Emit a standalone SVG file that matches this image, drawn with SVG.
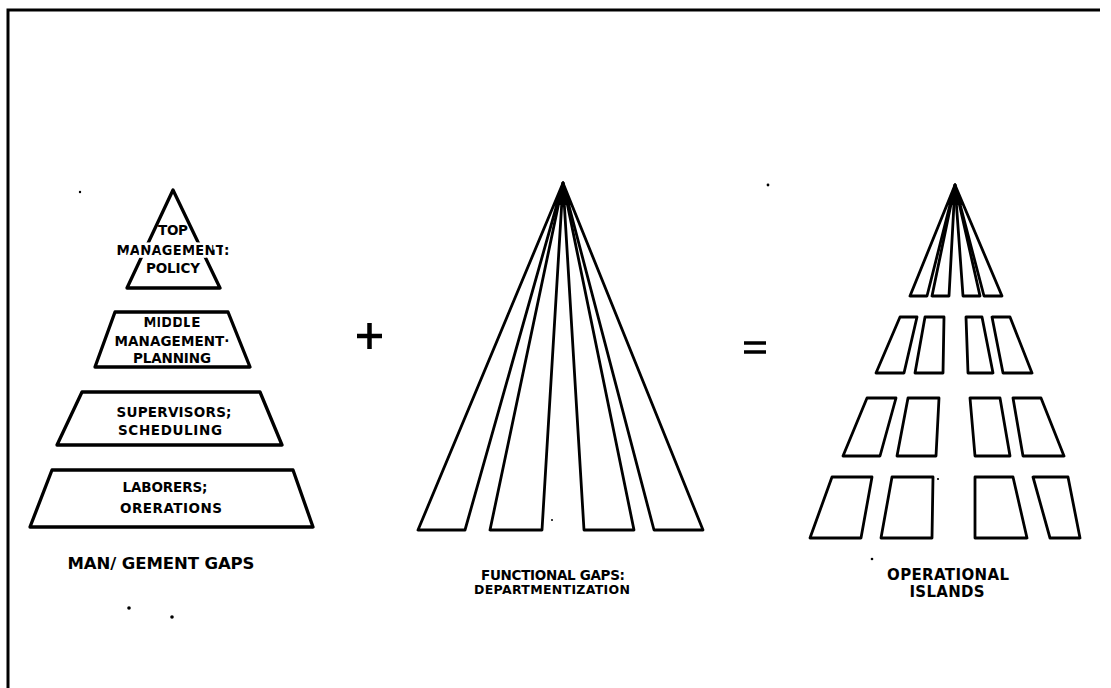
<svg xmlns="http://www.w3.org/2000/svg" width="1111" height="688" viewBox="0 0 1111 688">
<style>
.s{fill:none;stroke:#000;stroke-width:3.3;stroke-linejoin:round;stroke-linecap:round}
.f{fill:none;stroke:#000;stroke-width:2.8;stroke-linejoin:round;stroke-linecap:round}
.t{font-family:"DejaVu Sans","Liberation Sans",Arial,sans-serif;font-weight:bold;fill:#000;text-anchor:middle}
.p{font-size:13.5px}
.k{paint-order:stroke;stroke:#fff;stroke-width:5}
</style>
<rect width="1111" height="688" fill="#fff"/>
<g id="frame">
<path d="M8 688 L8 10 L1100 10" fill="none" stroke="#000" stroke-width="3"/>
</g>
<g id="specks" fill="#000">
<circle cx="129" cy="608" r="1.8"/>
<circle cx="172" cy="617" r="1.8"/>
<circle cx="80" cy="192" r="1.2"/>
<circle cx="768" cy="185" r="1.4"/>
<circle cx="938" cy="479" r="1.1"/>
<circle cx="872" cy="559" r="1.3"/>
<circle cx="552" cy="520" r="1"/>
</g>
<g id="pyramid-top">
<polygon class="s" points="173,190 220,288 127,288"/>
<text class="t p" x="173" y="235" textLength="30">TOP</text>
<text class="t p k" x="173" y="255" textLength="113">MANAGEMENT:</text>
<text class="t p" x="173" y="273" textLength="54">POLICY</text>
</g>
<g id="pyramid-middle">
<polygon class="s" points="115,312 228,312 250,367 95,367"/>
<text class="t p k" x="172" y="327" textLength="57">MIDDLE</text>
<text class="t p" x="172" y="346" textLength="115">MANAGEMENT·</text>
<text class="t p" x="172" y="363" textLength="78">PLANNING</text>
</g>
<g id="pyramid-supervisors">
<polygon class="s" points="82,392 260,392 282,445 57,445"/>
<text class="t p" x="174" y="417" textLength="115">SUPERVISORS;</text>
<text class="t p" x="170" y="435" textLength="104">SCHEDULING</text>
</g>
<g id="pyramid-laborers">
<polygon class="s" points="52,470 293,470 313,527 30,527"/>
<text class="t p" x="165" y="492" textLength="85">LABORERS;</text>
<text class="t p" x="171" y="513" textLength="102">ORERATIONS</text>
</g>
<g id="label-management-gaps">
<text class="t" font-size="16.5" x="161" y="569" textLength="187">MAN/ GEMENT GAPS</text>
</g>
<g id="plus">
<path d="M357 336 H382 M369.5 323 V349" stroke="#000" stroke-width="4.5" fill="none"/>
</g>
<g id="functional-fan">
<polygon class="f" points="563,183 418,530 465,530"/>
<polygon class="f" points="563,183 490,530 542,530"/>
<polygon class="f" points="563,183 584,530 634,530"/>
<polygon class="f" points="563,183 654,530 703,530"/>
<polygon fill="#000" points="563,181 555,205 572,205"/>
</g>
<g id="label-functional">
<text class="t" font-size="13.5" x="553" y="580" textLength="144">FUNCTIONAL GAPS:</text>
<text class="t" font-size="12.5" x="552" y="594" textLength="156">DEPARTMENTIZATION</text>
</g>
<g id="equals">
<path d="M744 343 H766 M744 352 H766" stroke="#000" stroke-width="3.5" fill="none"/>
</g>
<g id="islands-fan">
<polygon class="f" points="955,185 910,296 927,296"/>
<polygon class="f" points="955,185 932,296 949,296"/>
<polygon class="f" points="955,185 963,296 980,296"/>
<polygon class="f" points="955,185 984,296 1002,296"/>
<polygon fill="#000" points="955,183 948,205 963,205"/>
</g>
<g id="islands-row2">
<polygon class="f" points="900,317 917,317 904,373 876,373"/>
<polygon class="f" points="925,317 944,317 943,373 915,373"/>
<polygon class="f" points="966,317 982,317 993,373 968,373"/>
<polygon class="f" points="992,317 1010,317 1032,373 1003,373"/>
</g>
<g id="islands-row3">
<polygon class="f" points="867,398 896,398 880,456 843,456"/>
<polygon class="f" points="908,398 939,398 936,456 897,456"/>
<polygon class="f" points="970,398 1000,398 1010,456 975,456"/>
<polygon class="f" points="1013,398 1041,398 1064,456 1023,456"/>
</g>
<g id="islands-row4">
<polygon class="f" points="832,477 872,477 861,538 810,538"/>
<polygon class="f" points="892,477 933,477 932,538 881,538"/>
<polygon class="f" points="975,477 1013,477 1027,538 975,538"/>
<polygon class="f" points="1033,477 1068,477 1080,538 1050,538"/>
</g>
<g id="label-islands">
<text class="t" font-size="15" x="948" y="580" textLength="122">OPERATIONAL</text>
<text class="t" font-size="15" x="947" y="597" textLength="75">ISLANDS</text>
</g>
</svg>
